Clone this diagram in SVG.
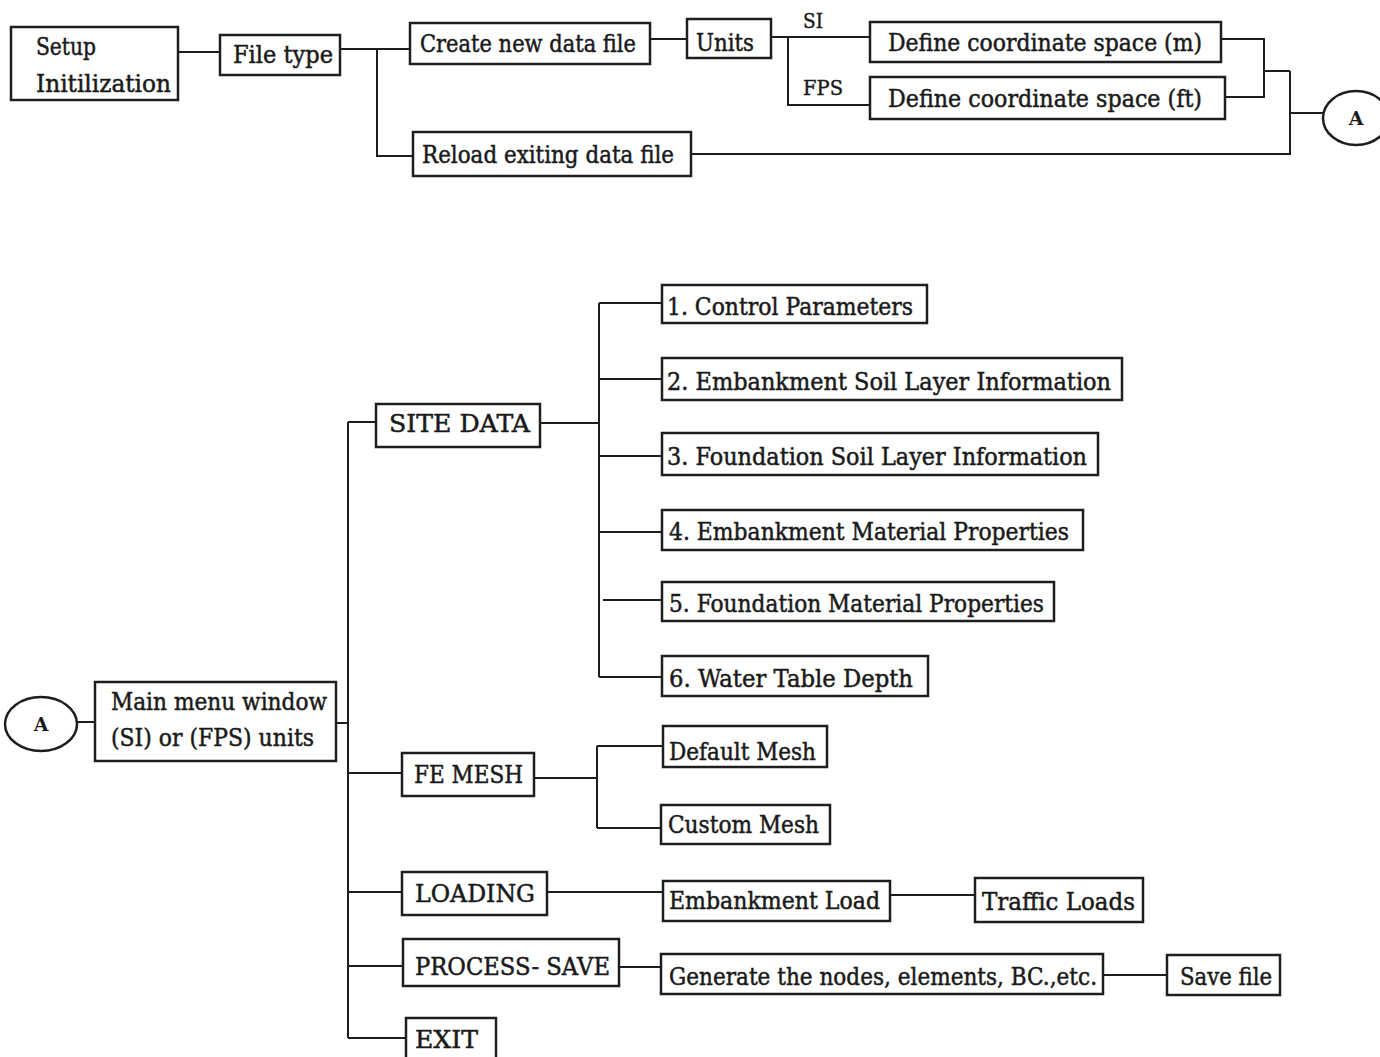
<svg xmlns="http://www.w3.org/2000/svg" width="1380" height="1057" viewBox="0 0 1380 1057">
<style>
.box{fill:#fff;stroke:#1e1e1e;stroke-width:2.5}
.ln{fill:none;stroke:#1e1e1e;stroke-width:2}
.t{font-family:"DejaVu Serif","Liberation Serif",serif;font-size:24px;fill:#1a1a1a;stroke:#1a1a1a;stroke-width:0.5}
.s{font-family:"DejaVu Serif","Liberation Serif",serif;font-size:20px;fill:#1a1a1a;stroke:#1a1a1a;stroke-width:0.4}
.a{font-family:"DejaVu Serif","Liberation Serif",serif;font-size:19px;font-weight:bold;fill:#1a1a1a;text-anchor:middle}
</style>
<rect width="1380" height="1057" fill="#fff"/>
<g id="connectors" class="ln">
<path d="M178 52H220"/>
<path d="M340 49H410M377 49V156H413"/>
<path d="M650 39H687"/>
<path d="M771 37H870M788 37V105H870"/>
<path d="M1221 39H1264V97H1225M1264 71H1290M691 154H1290V71M1290 113H1323"/>
<path d="M77 722H95M336 723H348M348 422V1038M348 422H376"/>
<path d="M540 423H599M599 303V677M599 303H662M599 379H662M599 456H662M599 532H662M603 600H662M599 677H662"/>
<path d="M348 773H402M534 778H597M597 746V828M597 746H663M597 828H661"/>
<path d="M348 892H402M547 892H663M890 895H975"/>
<path d="M348 966H403M619 967H661M1103 975H1167"/>
<path d="M348 1038H406"/>
</g>
<g id="setup"><rect class="box" x="11" y="27" width="167" height="73"/><text class="t" x="36" y="55" textLength="60" lengthAdjust="spacingAndGlyphs">Setup</text><text class="t" x="36" y="92" textLength="135" lengthAdjust="spacingAndGlyphs">Initilization</text></g>
<g id="filetype"><rect class="box" x="220" y="35" width="120" height="40"/><text class="t" x="233" y="63" textLength="100" lengthAdjust="spacingAndGlyphs">File type</text></g>
<g id="create"><rect class="box" x="410" y="23" width="240" height="41"/><text class="t" x="420" y="52" textLength="216" lengthAdjust="spacingAndGlyphs">Create new data file</text></g>
<g id="reload"><rect class="box" x="413" y="132" width="278" height="44"/><text class="t" x="422" y="163" textLength="252" lengthAdjust="spacingAndGlyphs">Reload exiting data file</text></g>
<g id="units"><rect class="box" x="687" y="19" width="84" height="39"/><text class="t" x="696" y="51" textLength="58" lengthAdjust="spacingAndGlyphs">Units</text></g>
<g id="lbl-si"><text class="s" x="803" y="28" textLength="20" lengthAdjust="spacingAndGlyphs">SI</text></g>
<g id="lbl-fps"><text class="s" x="803" y="95" textLength="40" lengthAdjust="spacingAndGlyphs">FPS</text></g>
<g id="define-m"><rect class="box" x="870" y="22" width="351" height="40"/><text class="t" x="888" y="51" textLength="314" lengthAdjust="spacingAndGlyphs">Define coordinate space (m)</text></g>
<g id="define-ft"><rect class="box" x="870" y="77" width="355" height="42"/><text class="t" x="888" y="107" textLength="314" lengthAdjust="spacingAndGlyphs">Define coordinate space (ft)</text></g>
<g id="connector-a-top"><ellipse class="box" cx="1356" cy="118" rx="33" ry="27"/><text class="a" x="1356" y="125">A</text></g>
<g id="connector-a-bottom"><ellipse class="box" cx="41" cy="724" rx="36" ry="27"/><text class="a" x="41" y="731">A</text></g>
<g id="mainmenu"><rect class="box" x="95" y="682" width="241" height="79"/><text class="t" x="111" y="710" textLength="216" lengthAdjust="spacingAndGlyphs">Main menu window</text><text class="t" x="111" y="746" textLength="203" lengthAdjust="spacingAndGlyphs">(SI) or (FPS) units</text></g>
<g id="sitedata"><rect class="box" x="376" y="404" width="164" height="43"/><text class="t" x="389" y="432" textLength="141" lengthAdjust="spacingAndGlyphs">SITE DATA</text></g>
<g id="item1"><rect class="box" x="662" y="285" width="265" height="38"/><text class="t" x="667" y="315" textLength="246" lengthAdjust="spacingAndGlyphs">1. Control Parameters</text></g>
<g id="item2"><rect class="box" x="662" y="358" width="460" height="42"/><text class="t" x="667" y="390" textLength="444" lengthAdjust="spacingAndGlyphs">2. Embankment Soil Layer Information</text></g>
<g id="item3"><rect class="box" x="662" y="433" width="436" height="42"/><text class="t" x="667" y="465" textLength="420" lengthAdjust="spacingAndGlyphs">3. Foundation Soil Layer Information</text></g>
<g id="item4"><rect class="box" x="662" y="510" width="421" height="40"/><text class="t" x="669" y="540" textLength="400" lengthAdjust="spacingAndGlyphs">4. Embankment Material Properties</text></g>
<g id="item5"><rect class="box" x="662" y="582" width="392" height="39"/><text class="t" x="669" y="612" textLength="375" lengthAdjust="spacingAndGlyphs">5. Foundation Material Properties</text></g>
<g id="item6"><rect class="box" x="662" y="656" width="266" height="40"/><text class="t" x="669" y="687" textLength="244" lengthAdjust="spacingAndGlyphs">6. Water Table Depth</text></g>
<g id="femesh"><rect class="box" x="402" y="753" width="132" height="43"/><text class="t" x="414" y="783" textLength="109" lengthAdjust="spacingAndGlyphs">FE MESH</text></g>
<g id="defaultmesh"><rect class="box" x="663" y="726" width="164" height="41"/><text class="t" x="669" y="760" textLength="147" lengthAdjust="spacingAndGlyphs">Default Mesh</text></g>
<g id="custommesh"><rect class="box" x="661" y="805" width="169" height="39"/><text class="t" x="668" y="833" textLength="151" lengthAdjust="spacingAndGlyphs">Custom Mesh</text></g>
<g id="loading"><rect class="box" x="402" y="872" width="145" height="43"/><text class="t" x="415" y="902" textLength="120" lengthAdjust="spacingAndGlyphs">LOADING</text></g>
<g id="embload"><rect class="box" x="663" y="881" width="227" height="40"/><text class="t" x="669" y="909" textLength="211" lengthAdjust="spacingAndGlyphs">Embankment Load</text></g>
<g id="traffic"><rect class="box" x="975" y="878" width="168" height="44"/><text class="t" x="982" y="910" textLength="153" lengthAdjust="spacingAndGlyphs">Traffic Loads</text></g>
<g id="process"><rect class="box" x="403" y="939" width="216" height="47"/><text class="t" x="415" y="975" textLength="195" lengthAdjust="spacingAndGlyphs">PROCESS- SAVE</text></g>
<g id="generate"><rect class="box" x="661" y="954" width="442" height="40"/><text class="t" x="669" y="985" textLength="428" lengthAdjust="spacingAndGlyphs">Generate the nodes, elements, BC.,etc.</text></g>
<g id="savefile"><rect class="box" x="1167" y="955" width="113" height="40"/><text class="t" x="1180" y="985" textLength="92" lengthAdjust="spacingAndGlyphs">Save file</text></g>
<g id="exit"><rect class="box" x="406" y="1018" width="90" height="48"/><text class="t" x="415" y="1048" textLength="63" lengthAdjust="spacingAndGlyphs">EXIT</text></g>
</svg>
